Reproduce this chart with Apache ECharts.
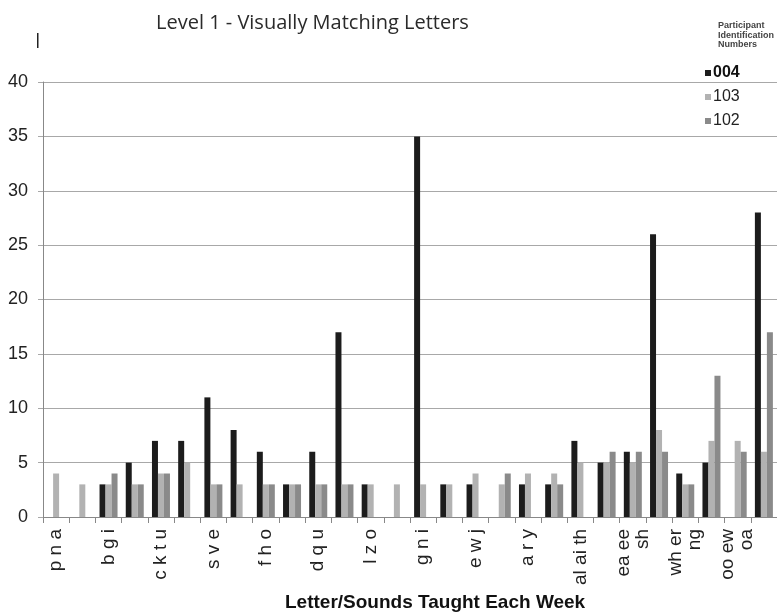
<!DOCTYPE html>
<html><head><meta charset="utf-8">
<script src="https://cdn.jsdelivr.net/npm/echarts@6/dist/echarts.min.js"></script>
<style>html,body{margin:0;padding:0;background:#fff}#c{width:777px;height:616px}</style>
</head><body><div id="c"></div>
<script>
const categories = ['p n a','', 'b g i','', 'c k t u','', 's v e','', 'f h o','', 'd q u','', 'l z o','', 'g n i','', 'e w j','', 'a r y','', 'al ai th','', 'ea ee\nsh','', 'wh er\nng','', 'oo ew\noa',''];
const p004 = [0,0,3,5,7,7,11,8,6,3,6,17,3,0,35,3,3,0,3,3,7,5,6,26,4,5,0,28];
const p103 = [4,3,3,3,4,5,3,3,3,3,3,3,3,3,3,3,4,3,4,4,5,5,5,8,3,7,7,6];
const p102 = [0,0,4,3,4,0,3,0,3,3,3,3,0,0,0,0,0,4,0,3,0,6,6,6,3,13,6,17];
const yTicks = [0,5,10,15,20,25,30,35,40];
const seriesNames = ['004','103','102'];

const chart = echarts.init(document.getElementById('c'));
const mk = (name, data, color) => ({
  name, type:'bar', data: data.map(v => v === 0 ? null : v),
  barWidth: 6, barGap: '0%', itemStyle:{color}, animation:false
});
chart.setOption({
  animation:false,
  title:[
    {text:'Level 1 - Visually Matching Letters', left:151, top:8,
     textStyle:{fontFamily:'Open Sans', fontWeight:'normal', fontSize:20, color:'#2a2a2a'}},
    {text:'Participant\nIdentification\nNumbers', left:713, top:16,
     textStyle:{fontFamily:'Liberation Sans', fontWeight:'bold', fontSize:9, lineHeight:9.5, color:'#444'}}
  ],
  legend:{
    data: seriesNames, orient:'vertical', left:700, top:60,
    itemWidth:6, itemHeight:6, itemGap:8, icon:'rect',
    formatter: n => n === '004' ? '{b|' + n + '}' : '{n|' + n + '}',
    textStyle:{fontFamily:'Liberation Sans', fontSize:16, color:'#222', padding:[0,0,0,-3],
      rich:{b:{fontFamily:'Liberation Sans', fontSize:16, fontWeight:'bold', color:'#111'},
            n:{fontFamily:'Liberation Sans', fontSize:16, color:'#222'}}}
  },
  grid:{left:43, top:82, width:737, bottom:99},
  xAxis:{
    type:'category', data: categories,
    axisLine:{show:true, lineStyle:{color:'#888', width:1}},
    axisTick:{show:true, alignWithLabel:false, interval:0, length:6, lineStyle:{color:'#888'}},
    axisLabel:{interval:0, rotate:90, margin:12, fontFamily:'Liberation Sans', fontSize:19, color:'#222', lineHeight:19}
  },
  yAxis:{
    type:'value', min:0, max:40, interval:5,
    axisLine:{show:true, lineStyle:{color:'#888'}},
    axisTick:{show:true, length:5, lineStyle:{color:'#a8a8a8'}},
    axisLabel:{margin:15, fontFamily:'Liberation Sans', fontSize:18, color:'#222'},
    splitLine:{lineStyle:{color:'#a8a8a8', width:1}}
  },
  graphic:[
    {type:'text', left:285, top:593, style:{text:'Letter/Sounds Taught Each Week',
      font:'bold 19px "Liberation Sans"', fill:'#111'}},
    {type:'rect', shape:{x:37, y:33, width:1.5, height:15}, style:{fill:'#222'}}
  ],
  series:[ mk('004', p004, '#1c1c1c'), mk('103', p103, '#b2b2b2'), mk('102', p102, '#8a8a8a') ]
});
</script></body></html>
